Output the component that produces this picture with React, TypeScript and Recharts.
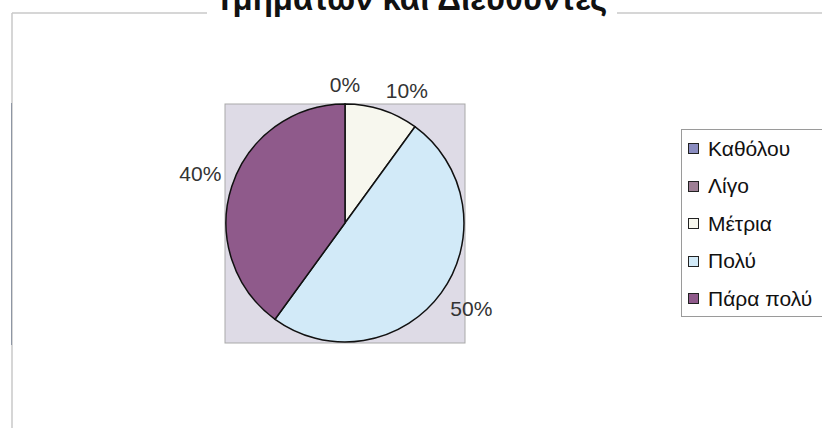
import React from 'react';
import { PieChart, Pie, Cell, Legend } from 'recharts';

const categories = ['Καθόλου', 'Λίγο', 'Μέτρια', 'Πολύ', 'Πάρα πολύ'];
const shares = [0, 0, 10, 50, 40];
const colors = ['#8a8cc0', '#9e7f95', '#f7f7ee', '#d2eaf8', '#8f5a8b'];
const title = 'Τμημάτων και Διευθυντές';

const data = categories.map((name, i) => ({ name, value: shares[i] }));

const RAD = Math.PI / 180;
const FONT = '"Liberation Sans", Arial, sans-serif';

// Excel-style outside-end labels: nearest corner of the label box sits just off the rim
const renderLabel = (props: any) => {
  const { cx, cy, midAngle, outerRadius, percent, index, value } = props;
  if (value === 0 && shares.indexOf(0) !== index) return null;
  const dx = Math.cos(-midAngle * RAD);
  const dy = Math.sin(-midAngle * RAD);
  const r = outerRadius + 10;
  const sx = Math.abs(dx) < 0.05 ? 0 : Math.sign(dx);
  const sy = Math.abs(dy) < 0.05 ? 0 : Math.sign(dy);
  const x = cx + dx * r + sx * 22;
  const y = cy + dy * r + sy * 10;
  return (
    <text
      x={x}
      y={y}
      textAnchor="middle"
      dominantBaseline="central"
      fill="#333"
      fontSize={21}
      fontFamily={FONT}
    >
      {`${Math.round(percent * 100)}%`}
    </text>
  );
};

const LegendBox = () => (
  <div
    style={{
      border: '1px solid #9a9a9a',
      borderRight: 'none',
      background: '#fff',
      height: 188,
      boxSizing: 'border-box',
      fontFamily: FONT,
    }}
  >
    {categories.map((c, i) => (
      <div key={c} style={{ display: 'flex', alignItems: 'center', height: 37.5 }}>
        <span
          style={{
            display: 'inline-block',
            width: 9,
            height: 9,
            border: '1.5px solid #222',
            background: colors[i],
            marginLeft: 6,
            marginRight: 9,
          }}
        />
        <span style={{ fontSize: 21, color: '#111', whiteSpace: 'nowrap' }}>{c}</span>
      </div>
    ))}
  </div>
);

export default function App() {
  return (
    <div style={{ position: 'fixed', left: 0, top: 0, width: 822, height: 428, background: '#fff' }}>
      <svg width={822} height={428} style={{ position: 'absolute', left: 0, top: 0 }}>
        <line x1={12} y1={13} x2={822} y2={13} stroke="#c8c8c8" strokeWidth={1.5} />
        <line x1={12} y1={13} x2={12} y2={428} stroke="#c8c8c8" strokeWidth={1.5} />
        <line x1={11.5} y1={103} x2={11.5} y2={345} stroke="#8e96a4" strokeWidth={1} />
        <rect x={207} y={0} width={410} height={17} fill="#fff" />
        <text x={411} y={10} textAnchor="middle" fontSize={33} fontWeight="bold" fontFamily={FONT} fill="#111">
          {title}
        </text>
        <rect x={225} y={104} width={240} height={239} fill="#dedbe6" stroke="#a9a9a9" strokeWidth={1} />
      </svg>
      <div style={{ position: 'absolute', left: 0, top: 0 }}>
        <PieChart width={822} height={428} margin={{ top: 0, right: 0, bottom: 0, left: 0 }}>
          <Pie
            data={data}
            dataKey="value"
            nameKey="name"
            cx={345}
            cy={223}
            outerRadius={119}
            startAngle={90}
            endAngle={-270}
            stroke="#111"
            strokeWidth={1.5}
            label={renderLabel}
            labelLine={false}
            isAnimationActive={false}
          >
            {data.map((d, i) => (
              <Cell key={d.name} fill={colors[i]} />
            ))}
          </Pie>
          <Legend
            content={<LegendBox />}
            wrapperStyle={{ position: 'absolute', left: 681, top: 129, width: 141, height: 188 }}
          />
        </PieChart>
      </div>
    </div>
  );
}
